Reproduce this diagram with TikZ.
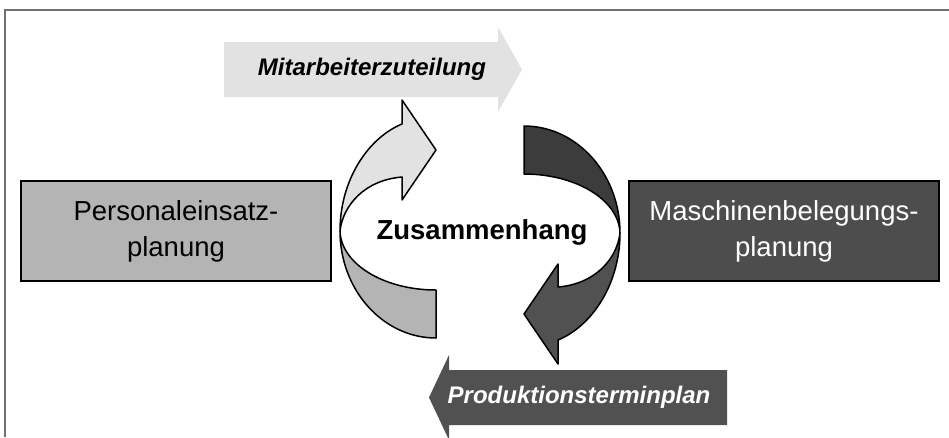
\documentclass[tikz,border=0pt]{standalone}
\usepackage{fontspec}
\setmainfont{Liberation Sans}
\usepackage{tikz}
\usepackage{xcolor}

\definecolor{lightband}{HTML}{E2E2E2}
\definecolor{lightpart}{HTML}{B4B4B4}
\definecolor{darkband}{HTML}{515151}
\definecolor{darkpart}{HTML}{4D4D4D}
\definecolor{darktail}{HTML}{3C3C3C}
\definecolor{framegray}{HTML}{707070}

\begin{document}
\begin{tikzpicture}[
	x=1pt, y=-1pt,
	every node/.style={inner sep=0pt},
	plan/.style={draw, line width=1.5pt, minimum width=310pt, minimum height=100pt, align=center, font=\fontsize{27.5}{36}\selectfont},
	flow/.style={font=\fontsize{24}{28}\selectfont\bfseries\itshape},
	roundarrow/.style={draw, line width=1.5pt, line join=round}
]
\useasboundingbox (0,0) rectangle (949,437);
\draw[framegray, line width=1.5pt] (5,437) -- (5,10) -- (949,10);

% the two plans
\node[plan, fill=lightpart] (pers) at (176,231) {Personaleinsatz-\\planung};
\node[plan, fill=darkpart, text=white] (masch) at (784,231) {Maschinenbelegungs-\\planung};

% straight arrows
\fill[lightband] (224,42) -- (498,42) -- (498,27) -- (522,69.5) -- (498,112) -- (498,97) -- (224,97) -- cycle;
\node[flow] (mit) at (372,69) {Mitarbeiterzuteilung};
\fill[darkband] (727,370) -- (449,370) -- (449,355) -- (429,397.5) -- (449,440) -- (449,425) -- (727,425) -- cycle;
\node[flow, text=white] (prod) at (579,397) {Produktionsterminplan};

% circular arrows
\foreach \turn/\tailcol/\headcol in {0/lightpart/lightband, 180/darktail/darkband} {
	\begin{scope}[rotate around={\turn:(480,232)}]
		\path[roundarrow, fill=\tailcol] (340,231) .. controls (340,290) and (383,338) .. (436,338)
			-- (436,290) .. controls (384,290) and (341,264) .. (340,231) -- cycle;
		\path[roundarrow, fill=\headcol] (340,231) .. controls (340,180) and (368,138) .. (402,124)
			-- (402,100) -- (436,150) -- (402,200) -- (402,177)
			.. controls (365,180) and (343,205) .. (340,231) -- cycle;
	\end{scope}
}
\node[font=\fontsize{27.5}{30}\selectfont\bfseries] (zus) at (482,232) {Zusammenhang};
\end{tikzpicture}
\end{document}
